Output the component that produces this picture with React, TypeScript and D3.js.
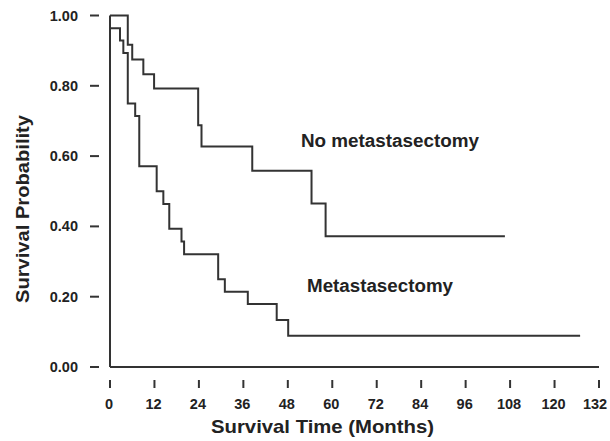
import React from "react";
import * as d3 from "d3";

const noMetTimes = [0, 4.8, 6, 9, 11.9, 23.8, 24.7, 38.4, 54.4, 58.2, 106.6];
const noMetSurv = [1.0, 0.917, 0.875, 0.833, 0.792, 0.688, 0.627, 0.558, 0.465, 0.372, 0.372];
const metTimes = [0, 2.7, 3.6, 4.8, 6.8, 7.9, 12.6, 14.4, 16, 19.3, 20, 29.2, 31, 37.2, 45, 48.1, 126.9];
const metSurv = [0.964, 0.929, 0.893, 0.75, 0.714, 0.571, 0.5, 0.464, 0.393, 0.357, 0.321, 0.25, 0.214, 0.179, 0.134, 0.089, 0.089];
const xTicks = [0, 12, 24, 36, 48, 60, 72, 84, 96, 108, 120, 132];
const yTicks = [0, 0.2, 0.4, 0.6, 0.8, 1.0];
const seriesLabels = ["No metastasectomy", "Metastasectomy"];

export default function App() {
  const W = 610, H = 441;
  const x = d3.scaleLinear().domain([0, 132]).range([110, 599]);
  const y = d3.scaleLinear().domain([0, 1]).range([367, 15.5]);
  const line = d3
    .line<[number, number]>()
    .x((d) => x(d[0]))
    .y((d) => y(d[1]))
    .curve(d3.curveStepAfter);
  const up = noMetTimes.map((t, i) => [t, noMetSurv[i]] as [number, number]);
  const lo = metTimes.map((t, i) => [t, metSurv[i]] as [number, number]);
  const col = "#333";
  const font = "'Liberation Sans', Arial, sans-serif";
  return (
    <svg width={W} height={H} style={{ position: "absolute", left: 0, top: 0, background: "#fff" }}>
      <rect width={W} height={H} fill="#fff" />
      <line x1={x(0)} x2={x(0)} y1={y(1)} y2={y(0)} stroke={col} strokeWidth={2} />
      <line x1={x(0)} x2={x(132)} y1={y(0)} y2={y(0)} stroke={col} strokeWidth={2} />
      {yTicks.map((t) => (
        <g key={"y" + t}>
          <line x1={90} x2={99} y1={y(t)} y2={y(t)} stroke={col} strokeWidth={2} />
          <text x={78} y={y(t)} dy="0.35em" textAnchor="end" fontFamily={font} fontWeight="bold" fontSize={14.5} fill="#222">
            {t.toFixed(2)}
          </text>
        </g>
      ))}
      {xTicks.map((t) => (
        <g key={"x" + t}>
          <line x1={x(t)} x2={x(t)} y1={380} y2={388} stroke={col} strokeWidth={2} />
          <text x={Math.min(x(t) - 1, W - 15)} y={409} textAnchor="middle" fontFamily={font} fontWeight="bold" fontSize={14.5} fill="#222">
            {t}
          </text>
        </g>
      ))}
      <text x={322.5} y={433} textAnchor="middle" fontFamily={font} fontWeight="bold" fontSize={18.5} fill="#222" textLength={223} lengthAdjust="spacingAndGlyphs">
        Survival Time (Months)
      </text>
      <text transform="translate(29,209) rotate(-90)" textAnchor="middle" fontFamily={font} fontWeight="bold" fontSize={18.5} fill="#222" textLength={188} lengthAdjust="spacingAndGlyphs">
        Survival Probability
      </text>
      <path d={line(up) || ""} fill="none" stroke={col} strokeWidth={2} />
      <path d={line(lo) || ""} fill="none" stroke={col} strokeWidth={2} />
      <text x={301} y={146.5} fontFamily={font} fontWeight="bold" fontSize={18} fill="#222" textLength={178} lengthAdjust="spacingAndGlyphs">
        {seriesLabels[0]}
      </text>
      <text x={307} y={291.5} fontFamily={font} fontWeight="bold" fontSize={18} fill="#222" textLength={146} lengthAdjust="spacingAndGlyphs">
        {seriesLabels[1]}
      </text>
    </svg>
  );
}
